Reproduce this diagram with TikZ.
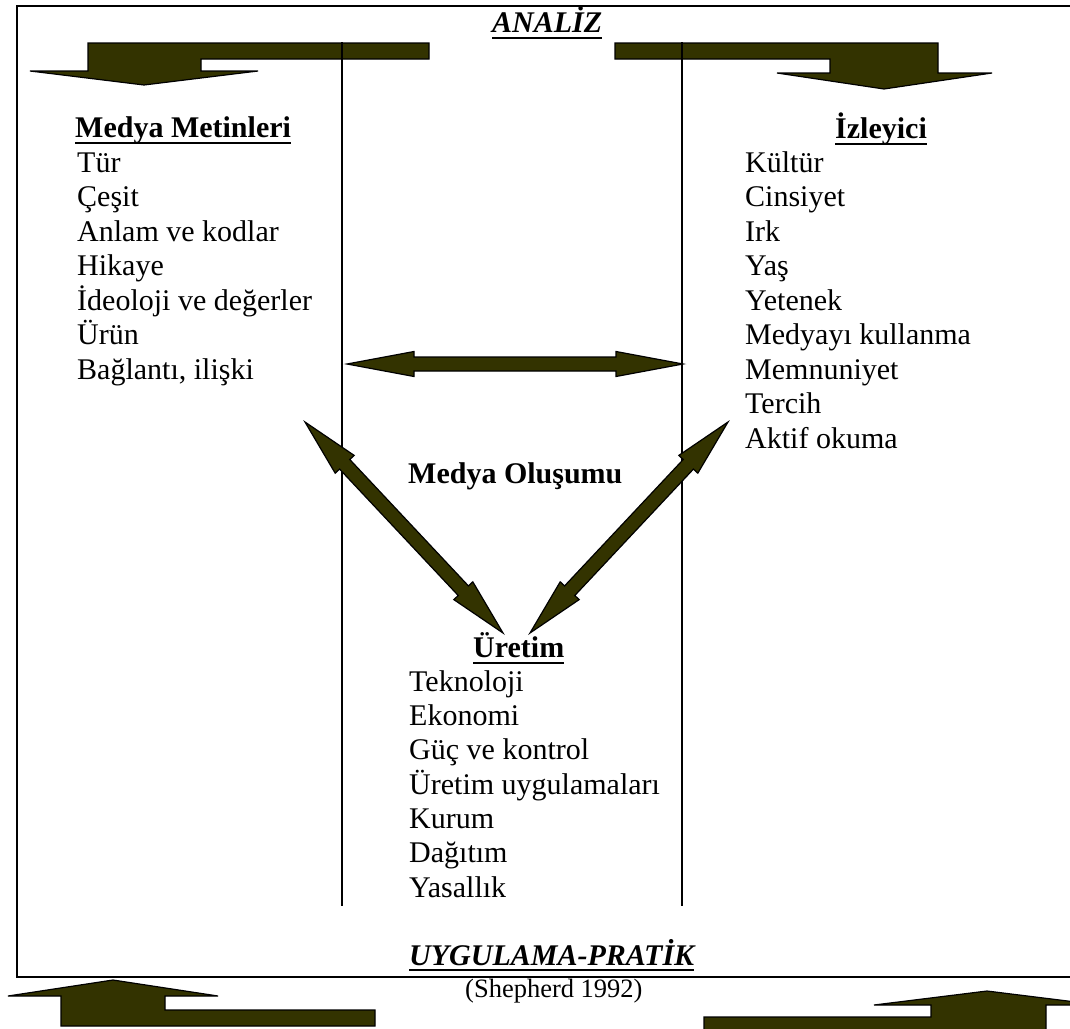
\documentclass[tikz,border=0pt]{standalone}
\usepackage{fontspec}
\setmainfont{Liberation Serif}
\usetikzlibrary{calc}
\definecolor{olivefill}{RGB}{51,51,0}
\newcommand\blockdarrow[5]{%
  \coordinate (h1) at ($(#1)!#3!(#2)$);
  \coordinate (h2) at ($(#2)!#3!(#1)$);
  \draw[blk] (#1) -- ($(h1)!#4!90:(#2)$) -- ($(h1)!#5!90:(#2)$)
    -- ($(h2)!#5!-90:(#1)$) -- ($(h2)!#4!-90:(#1)$) -- (#2)
    -- ($(h2)!#4!90:(#1)$) -- ($(h2)!#5!90:(#1)$)
    -- ($(h1)!#5!-90:(#2)$) -- ($(h1)!#4!-90:(#2)$) -- cycle;
}
\begin{document}
\begin{tikzpicture}[x=1pt,y=-1pt,
  blk/.style={draw=black,line width=1.2pt,fill=olivefill,line join=miter},
  txt/.style={font=\fontsize{30}{34.5}\selectfont,inner sep=0pt,anchor=base west},
  hdr/.style={txt,font=\fontsize{30}{34.5}\selectfont\bfseries},
  ttl/.style={txt,font=\fontsize{30}{34.5}\selectfont\bfseries\itshape},
  srcs/.style={txt,font=\fontsize{26.5}{30}\selectfont},
  ul/.style={line width=2.6pt},
  vline/.style={line width=1.5pt},
  frame/.style={line width=2pt}]
\useasboundingbox (0,0) rectangle (1070,1028);
\clip (0,0) rectangle (1070,1028);
\fill[white] (0,0) rectangle (1070,1028);
% frame
\draw[frame] (17,6) rectangle (1090,977);
% bent arrows
\draw[blk] (429,43) -- (88,43) -- (88,71) -- (30,71) -- (144,85) -- (258,71) -- (201,71) -- (201,59) -- (429,59) -- cycle;
\draw[blk] (615,43) -- (938,43) -- (938,73) -- (992,73) -- (884,89) -- (777,73) -- (830,73) -- (830,59) -- (615,59) -- cycle;
\draw[blk] (113,980) -- (218,996) -- (165,996) -- (165,1010) -- (375,1010) -- (375,1026) -- (61,1026) -- (61,996) -- (8,996) -- cycle;
\draw[blk] (987,991) -- (1100,1005) -- (1046,1005) -- (1046,1035) -- (704,1035) -- (704,1017) -- (931,1017) -- (931,1005) -- (874,1005) -- cycle;
% vertical lines
\coordinate (vl1) at (342,42); \coordinate (vl2) at (342,906);
\coordinate (vr1) at (682,42); \coordinate (vr2) at (682,906);
\draw[vline] (vl1) -- (vl2);
\draw[vline] (vr1) -- (vr2);
% titles
\node[ttl] (analiz) at (492,32) {ANALİZ};
\draw[ul] ([yshift=-6pt]analiz.base west) -- ([yshift=-6pt]analiz.base east);
\node[ttl] (uyg) at (409,965) {UYGULAMA-PRATİK};
\draw[ul] ([yshift=-5pt]uyg.base west) -- ([yshift=-5pt]uyg.base east);
\node[srcs] (src) at (465,997) {(Shepherd 1992)};
% left block
\node[hdr] (mm) at (75,137) {Medya Metinleri};
\draw[ul] ([yshift=-6pt]mm.base west) -- ([yshift=-6pt]mm.base east);
\foreach \t [count=\i] in {Tür,Çeşit,Anlam ve kodlar,Hikaye,İdeoloji ve değerler,Ürün,{Bağlantı, ilişki}}
  \node[txt] (mm\i) at (77,{172+34.55*(\i-1)}) {\t};
% right block
\node[hdr] (iz) at (835,138) {İzleyici};
\draw[ul] ([yshift=-6pt]iz.base west) -- ([yshift=-6pt]iz.base east);
\foreach \t [count=\i] in {Kültür,Cinsiyet,Irk,Yaş,Yetenek,Medyayı kullanma,Memnuniyet,Tercih,Aktif okuma}
  \node[txt] (iz\i) at (745,{172+34.5*(\i-1)}) {\t};
% bottom block
\node[hdr] (ur) at (473,657) {Üretim};
\draw[ul] ([yshift=-6pt]ur.base west) -- ([yshift=-6pt]ur.base east);
\foreach \t [count=\i] in {Teknoloji,Ekonomi,Güç ve kontrol,Üretim uygulamaları,Kurum,Dağıtım,Yasallık}
  \node[txt] (ur\i) at (409,{691+34.35*(\i-1)}) {\t};
% centre label
\node[hdr] (mo) at (408,483) {Medya Oluşumu};
% double arrows
\coordinate (ha) at (347,364); \coordinate (hb) at (683,364);
\coordinate (la) at (305,422); \coordinate (lb) at (503,633);
\coordinate (ra) at (728,422); \coordinate (rb) at (530,633);
\blockdarrow{ha}{hb}{67pt}{12.5pt}{7pt}
\blockdarrow{la}{lb}{58pt}{13pt}{7pt}
\blockdarrow{ra}{rb}{58pt}{13pt}{7pt}
\end{tikzpicture}
\end{document}
